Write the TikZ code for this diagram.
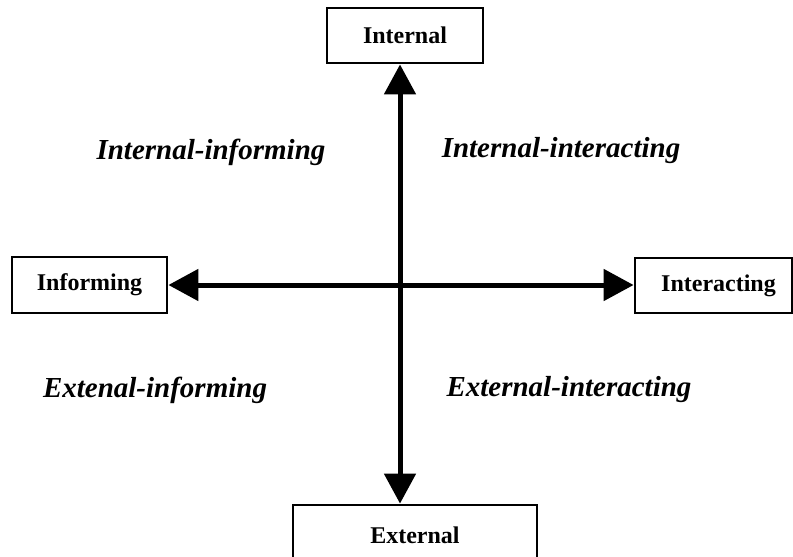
\documentclass[tikz,border=0pt]{standalone}
\usepackage{fontspec}
\setmainfont{Liberation Serif}
\usetikzlibrary{arrows.meta}
\begin{document}
\begin{tikzpicture}[x=1pt,y=-1pt,
  boxnode/.style={draw=black,line width=2.8pt,inner sep=0pt,
    font=\fontsize{24}{28}\selectfont\bfseries},
  quadlabel/.style={inner sep=0pt,font=\fontsize{29}{34}\selectfont\bfseries\itshape},
  axis/.style={line width=5pt,{Triangle[length=30pt,width=31pt]}-{Triangle[length=30pt,width=31pt]}}]
\clip (0,0) rectangle (793,557);
\fill[white] (0,0) rectangle (793,557);
\coordinate (c) at (400,285);
\node[boxnode,minimum width=156pt,minimum height=55pt] (internal) at (405,35.5) {Internal};
\node[boxnode,minimum width=155pt,minimum height=56pt] (informing) at (89.5,285) {Informing};
\node[boxnode,minimum width=157pt,minimum height=55pt,text width=157pt,align=center] (interacting) at (713.5,285.5) {\hspace*{10pt}Interacting};
\node[boxnode,minimum width=244pt,minimum height=60pt] (external) at (415,535) {External};
\draw[axis] (c |- internal.south) -- (c |- external.north);
\draw[axis] (c -| informing.east) -- (c -| interacting.west);
\node[quadlabel] (qa) at (211,152) {Internal-informing};
\node[quadlabel] (qb) at (561,151) {Internal-interacting};
\node[quadlabel] (qc) at (155,390) {Extenal-informing};
\node[quadlabel] (qd) at (569,390) {External-interacting};
\end{tikzpicture}
\end{document}
